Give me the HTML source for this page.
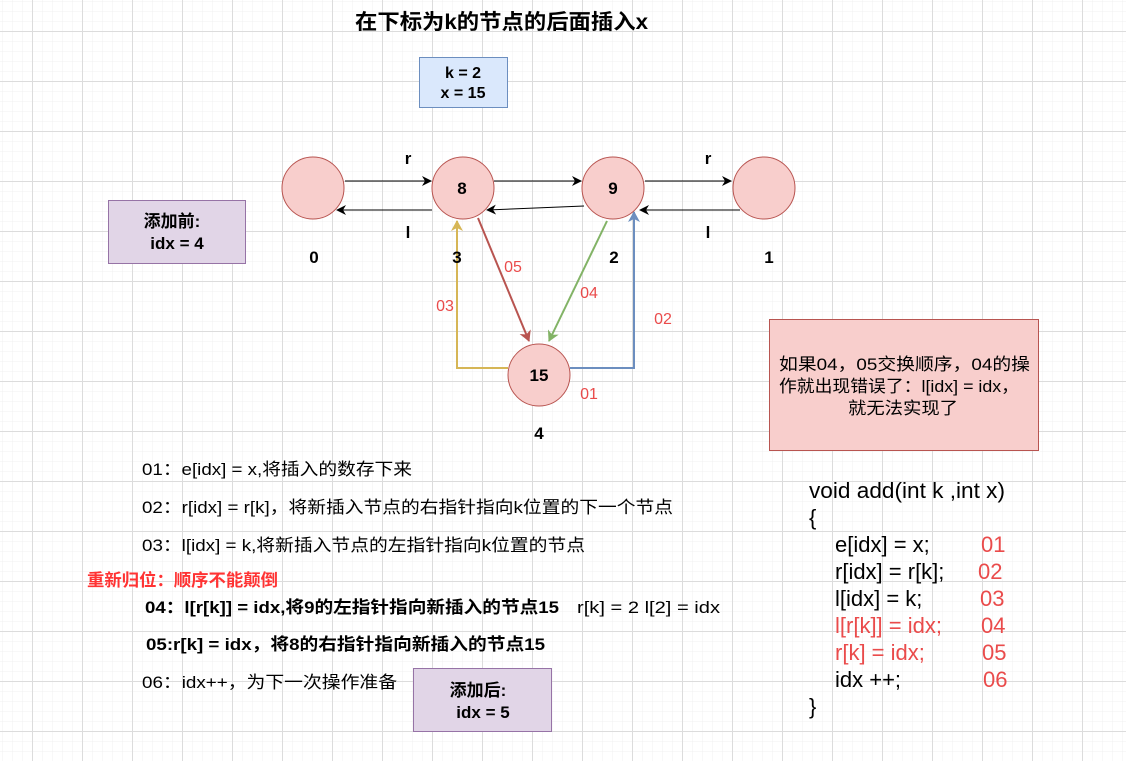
<!DOCTYPE html>
<html><head><meta charset="utf-8"><style>
html,body{margin:0;padding:0;background:#fff;}
svg{display:block;}
text{font-family:"Liberation Sans","Noto Sans CJK SC",sans-serif;}
</style></head><body>
<svg width="1126" height="761" viewBox="0 0 1126 761" xmlns="http://www.w3.org/2000/svg">
<defs>
<pattern id="minor" x="2" y="1" width="10" height="10" patternUnits="userSpaceOnUse">
<path d="M0 0H10M0 0V10" stroke="#f0f0f0" stroke-width="1" fill="none"/>
</pattern>
<pattern id="major" x="32" y="31" width="50" height="50" patternUnits="userSpaceOnUse">
<path d="M0 0.5H50M0.5 0V50" stroke="#dcdcdc" stroke-width="1" fill="none"/>
</pattern>
<marker id="ak" markerWidth="10" markerHeight="10" refX="9" refY="5" orient="auto" markerUnits="userSpaceOnUse"><path d="M0 0L10 5L0 10L3 5Z" fill="#000"/></marker>
<marker id="ar" markerWidth="12" markerHeight="12" refX="10" refY="6" orient="auto" markerUnits="userSpaceOnUse"><path d="M0 0L11 6L0 12L3 6Z" fill="#b85450"/></marker>
<marker id="ag" markerWidth="12" markerHeight="12" refX="10" refY="6" orient="auto" markerUnits="userSpaceOnUse"><path d="M0 0L11 6L0 12L3 6Z" fill="#82b366"/></marker>
<marker id="ay" markerWidth="12" markerHeight="12" refX="10" refY="6" orient="auto" markerUnits="userSpaceOnUse"><path d="M0 0L11 6L0 12L3 6Z" fill="#d6b656"/></marker>
<marker id="ab" markerWidth="12" markerHeight="12" refX="10" refY="6" orient="auto" markerUnits="userSpaceOnUse"><path d="M0 0L11 6L0 12L3 6Z" fill="#6c8ebf"/></marker>
</defs>
<rect width="1126" height="761" fill="url(#minor)"/>
<rect width="1126" height="761" fill="url(#major)"/>

<text x="355" y="29" font-size="21" font-weight="bold" textLength="293" lengthAdjust="spacingAndGlyphs">在下标为k的节点的后面插入x</text>

<rect x="419.5" y="57.5" width="88" height="50" fill="#dae8fc" stroke="#6c8ebf"/>
<text x="463" y="78" text-anchor="middle" font-size="16" font-weight="bold">k = 2</text>
<text x="463" y="98" text-anchor="middle" font-size="16" font-weight="bold">x = 15</text>

<rect x="108.5" y="200.5" width="137" height="63" fill="#e1d5e7" stroke="#9673a6"/>
<text x="172" y="227" text-anchor="middle" font-size="17" font-weight="bold">添加前:</text>
<text x="177" y="249" text-anchor="middle" font-size="17" font-weight="bold">idx = 4</text>

<rect x="413.5" y="668.5" width="138" height="63" fill="#e1d5e7" stroke="#9673a6"/>
<text x="478" y="696" text-anchor="middle" font-size="17" font-weight="bold">添加后:</text>
<text x="483" y="718" text-anchor="middle" font-size="17" font-weight="bold">idx = 5</text>

<!-- connectors -->
<line x1="345" y1="181" x2="431" y2="181" stroke="#000" marker-end="url(#ak)"/>
<line x1="494" y1="181" x2="581" y2="181" stroke="#000" marker-end="url(#ak)"/>
<line x1="645" y1="181" x2="731" y2="181" stroke="#000" marker-end="url(#ak)"/>
<line x1="432" y1="210" x2="337" y2="210" stroke="#000" marker-end="url(#ak)"/>
<line x1="584" y1="206" x2="487" y2="210" stroke="#000" marker-end="url(#ak)"/>
<line x1="740" y1="210" x2="640" y2="210" stroke="#000" marker-end="url(#ak)"/>

<polyline points="508,368 457,368 457,221" fill="none" stroke="#d6b656" stroke-width="2" marker-end="url(#ay)"/>
<polyline points="570,368 634,368 634,212" fill="none" stroke="#6c8ebf" stroke-width="2" marker-end="url(#ab)"/>
<line x1="478" y1="218" x2="529" y2="341" stroke="#b85450" stroke-width="2" marker-end="url(#ar)"/>
<line x1="607" y1="221" x2="549" y2="341" stroke="#82b366" stroke-width="2" marker-end="url(#ag)"/>

<!-- nodes -->
<g fill="#f8cecc" stroke="#b85450">
<circle cx="313" cy="188" r="31"/>
<circle cx="463" cy="188" r="31"/>
<circle cx="613" cy="188" r="31"/>
<circle cx="764" cy="188" r="31"/>
<circle cx="539" cy="375" r="31"/>
</g>
<g font-size="17" font-weight="bold" text-anchor="middle">
<text x="462" y="194">8</text>
<text x="613" y="194">9</text>
<text x="539" y="381">15</text>
<text x="408" y="164">r</text>
<text x="408" y="238">l</text>
<text x="708" y="164">r</text>
<text x="708" y="238">l</text>
<text x="314" y="263">0</text>
<text x="457" y="263">3</text>
<text x="614" y="263">2</text>
<text x="769" y="263">1</text>
<text x="539" y="439">4</text>
</g>
<g font-size="16" fill="#ea4b4b" text-anchor="middle">
<text x="513" y="272">05</text>
<text x="445" y="311">03</text>
<text x="589" y="298">04</text>
<text x="663" y="324">02</text>
<text x="589" y="399">01</text>
</g>

<rect x="769.5" y="319.5" width="269" height="131" fill="#f8cecc" stroke="#b85450"/>
<g font-size="17">
<text x="779" y="370" textLength="251" lengthAdjust="spacingAndGlyphs">如果04，05交换顺序，04的操</text>
<text x="779" y="392" textLength="240" lengthAdjust="spacingAndGlyphs">作就出现错误了：l[idx] = idx，</text>
<text x="848" y="414" textLength="110" lengthAdjust="spacingAndGlyphs">就无法实现了</text>
</g>

<g font-size="17">
<text x="142" y="475" textLength="270" lengthAdjust="spacingAndGlyphs">01：e[idx] = x,将插入的数存下来</text>
<text x="142" y="513" textLength="531" lengthAdjust="spacingAndGlyphs">02：r[idx] = r[k]，将新插入节点的右指针指向k位置的下一个节点</text>
<text x="142" y="551" textLength="443" lengthAdjust="spacingAndGlyphs">03：l[idx] = k,将新插入节点的左指针指向k位置的节点</text>
<text x="87" y="586" fill="#ff3333" font-weight="bold" textLength="191" lengthAdjust="spacingAndGlyphs">重新归位：顺序不能颠倒</text>
<text x="145" y="613" font-weight="bold" textLength="414" lengthAdjust="spacingAndGlyphs">04：l[r[k]] = idx,将9的左指针指向新插入的节点15</text>
<text x="577" y="613" textLength="143" lengthAdjust="spacingAndGlyphs">r[k] = 2  l[2] = idx</text>
<text x="146" y="650" font-weight="bold" textLength="399" lengthAdjust="spacingAndGlyphs">05:r[k] = idx，将8的右指针指向新插入的节点15</text>
<text x="142" y="688" textLength="255" lengthAdjust="spacingAndGlyphs">06：idx++，为下一次操作准备</text>
</g>

<g font-size="22">
<text x="809" y="498" textLength="196" lengthAdjust="spacingAndGlyphs">void add(int k ,int x)</text>
<text x="809" y="525">{</text>
<text x="835" y="552">e[idx] = x;</text>
<text x="835" y="579">r[idx] = r[k];</text>
<text x="835" y="606">l[idx] = k;</text>
<text x="835" y="633" fill="#ea4b4b">l[r[k]] = idx;</text>
<text x="835" y="660" fill="#ea4b4b">r[k] = idx;</text>
<text x="835" y="687">idx ++;</text>
<text x="809" y="714">}</text>
<g fill="#ea4b4b">
<text x="981" y="552">01</text>
<text x="978" y="579">02</text>
<text x="980" y="606">03</text>
<text x="981" y="633">04</text>
<text x="982" y="660">05</text>
<text x="983" y="687">06</text>
</g>
</g>
</svg>
</body></html>
